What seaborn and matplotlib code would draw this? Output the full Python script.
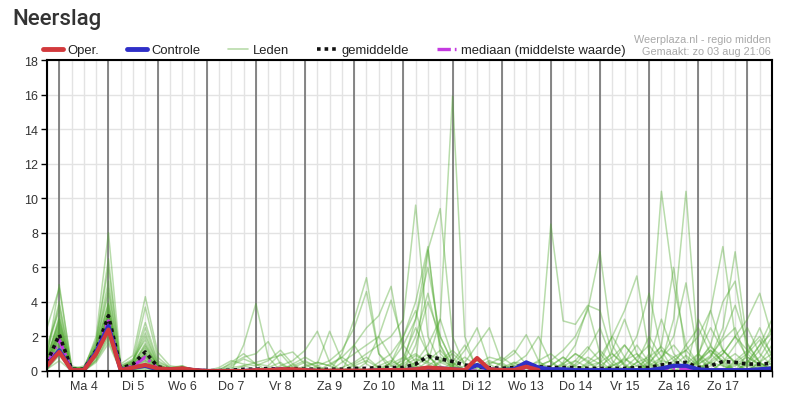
import numpy as np
import pandas as pd
import matplotlib
matplotlib.use("Agg")
import matplotlib.pyplot as plt
from matplotlib.lines import Line2D
import seaborn as sns

# ---------------- data (6-hourly steps, first step = zo 3 aug 18:00) ----------------
dag_labels = ["Ma 4", "Di 5", "Wo 6", "Do 7", "Vr 8", "Za 9", "Zo 10",
              "Ma 11", "Di 12", "Wo 13", "Do 14", "Vr 15", "Za 16", "Zo 17"]
y_ticks = [0, 2, 4, 6, 8, 10, 12, 14, 16, 18]

oper = [.3, 1.1, .05, .05, 1.0, 2.4, .05, .2, .35, .15, .1, .15, .05, 0, 0, 0, 0,
        .05, .05, .1, .1, .05, .02, .02, .02, .02, .02, .05, .05, .05, .1, .2, .15,
        .1, .05, .75, .1, .05, .05, .25, .05]

controle = [.3, 1.2, .05, .05, 1.1, 2.6, .05, .2, .3, .1, .1, .1, .05, 0, 0, 0, 0,
            .05, .05, .1, .05, .05, 0, 0, 0, 0, 0, .05, .05, .05, .1, .15, .15,
            .1, .05, .35, .1, .05, .1, .5, .2, .1, .1, .05, .05, .05, .05, .05, .05,
            .05, .15, .3, .3, .1, .05, .05, .05, .05, .1, .15]

gemiddelde = [.5, 2.1, .1, .1, 1.2, 3.2, .15, .4, 1.1, .25, .1, .15, .05, .02, .02, .05, .1,
              .1, .15, .1, .15, .1, .1, .1, .1, .15, .15, .2, .2, .2, .4, .85, .7,
              .55, .35, .25, .2, .15, .2, .4, .25, .2, .2, .2, .15, .15, .15, .15, .2,
              .2, .35, .45, .5, .2, .3, .55, .5, .4, .4, .45]

mediaan = [.4, 1.8, .05, .05, 1.1, 2.9, .1, .3, .8, .15, .05, .1, 0, 0, 0, 0, 0,
           0, 0, 0, 0, 0, 0, 0, 0, 0, 0, 0, 0, 0, .05, .1, .05,
           0, 0, 0, 0, 0, 0, .05, 0, 0, 0, 0, 0, 0, 0, 0, 0,
           0, .1, .15, .15, 0, 0, .05, .05, 0, 0, 0]

leden = [
    [.3, 2, .1, 0, 1, 3, .1, .3, 1, .2, .1, .1, 0, 0, 0, .2, .3, .1, 0, 0, 0, 0, 0, 0, .2, .5, 1, 1.5, 2, 3, 9.6, 2, .5, .2, 0, 0, 0, 0, 0, .3, .5, .2, 0, 0, .3, .5, 1, .4, 0, 0, .3, .8, 1.2, 2, 3.5, 7.2, 2, .8, .4, .2],
    [.8, 5, .2, .1, 1.5, 4.5, .2, .5, 2, .4, .1, .2, 0, 0, 0, 0, 0, 0, 0, .3, .6, 1.2, 2.3, .5, 0, 0, 0, 0, 0, .2, .5, 1, .6, .3, 1.2, 2.5, .4, 0, 0, 0, 0, 0, .4, 1, .5, 0, 0, .2, .8, 1.5, .5, 0, 0, 0, .3, 1, 2, 1.2, .5, 0],
    [.2, 1.5, 0, 0, .8, 2.5, 0, .2, .6, .1, 0, .1, 0, 0, .1, .4, .8, 1, 1.7, .4, 0, 0, 0, 0, 0, .3, .6, .2, 0, 0, 1.5, 4, 2, .5, 0, 0, 0, .5, 1, 2.1, .6, 0, 0, 0, 0, .3, .8, 1.5, .6, 0, 0, 0, .2, .6, 1.4, .8, 0, 0, .5, 1],
    [1.5, 3.5, .1, .2, 1.8, 6, .3, .6, 3.7, .8, .2, .3, .05, 0, 0, 0, 0, 0, 0, 0, .2, .5, .3, 0, 1, 3, 5.4, 1, 0, 0, 0, .3, .8, .2, 0, 0, .5, .4, 0, 0, 0, 0, 0, .6, 1.4, .6, 0, 0, 0, .4, 1.5, 6, .8, 0, 0, 0, .5, 1, 1.8, .6],
    [.4, 2.5, .1, .1, 1.2, 3.5, .1, .4, 1.5, .3, .1, .1, 0, 0, 0, .5, 1, .4, 0, 0, 0, 0, 0, 0, 0, 0, 0, .2, .4, .8, .3, 0, 0, 0, 0, .2, .6, .3, 0, 0, 0, 8.5, 2.9, 2.7, 3.8, 3.5, 1, .3, 0, 0, 0, 0, 0, .2, .5, .3, 0, 0, 0, .3],
    [.1, 1, 0, 0, .6, 2, .1, .1, .3, 0, 0, 0, 0, 0, 0, 0, 0, 0, .2, .5, 0, 0, 0, 0, 0, 0, 0, 0, .5, 2, 4, 7.2, 1, .3, 0, 0, 0, 0, .5, .4, 0, 0, 0, 0, 0, 0, 1.2, 3, 1, 0, 0, 0, 0, 1, 2.5, 1.2, .5, .3, 0, 0],
    [2.5, 4.8, .3, .1, 2, 8, .4, .9, 4.3, 1.1, .3, .2, .1, 0, 0, 0, 1.5, 3.9, .8, 0, 0, 0, 0, 0, 0, .4, .8, .2, 0, 0, 0, 0, .5, 1, .4, 0, 0, 0, 0, 0, .3, .6, 0, 0, 0, 0, 0, .5, 1.5, .5, 0, 0, 0, 0, .8, 2.5, 6.9, 1.5, .5, 0],
    [.5, 2.2, .1, .3, 1.3, 3.2, .1, .3, .8, .2, .1, .2, 0, 0, 0, 0, 0, 0, 0, 0, .4, .8, .4, 2.3, .6, 0, 0, 0, 0, .3, .7, .4, 0, .5, 1.5, .2, 0, 0, 0, 0, 0, .3, .8, .2, 0, 0, 0, 0, 0, .2, .6, .4, .2, .5, 1.2, .6, 0, .3, .8, 2],
    [.3, 1.8, 0, 0, 1, 2.8, 0, .2, .5, .1, 0, 0, 0, 0, 0, 0, 0, 0, 0, 0, 0, 0, .3, .6, 1.2, 2.5, 4.6, 1, .3, 0, 0, 0, 0, 0, 0, 0, .4, .8, .3, 0, 0, 0, 0, 0, .5, 1.2, .4, 0, 0, 0, .8, 2, 5.1, .8, 0, 0, 0, 0, 0, .5],
    [.6, 3, .2, .1, 1.4, 4, .2, .5, 2.5, .5, .2, .1, 0, 0, 0, 0, .3, .5, .7, .9, 1.1, .4, 0, 0, 0, 0, 0, .3, .6, .2, 0, 0, 0, 0, .3, .6, .2, 0, .4, .9, 2, .5, 0, 0, 0, 0, .3, .7, .3, 0, 0, 0, 0, .4, .9, 1.8, 2.5, .6, 0, 0],
    [.2, 1.2, 0, .1, .9, 2.2, 0, .1, .2, 0, 0, .1, 0, 0, 0, 0, 0, 0, 0, 0, 0, 0, 0, .4, .8, 1.5, 2.5, 3.2, 4.9, 1, 0, 0, 0, 0, 0, 0, 0, 0, 0, 0, .3, .6, 1.2, 2, 3.5, 6.9, 1.5, .3, 0, 0, 0, 0, .4, 1, .4, 0, 0, 0, 0, 0],
    [.9, 2.8, .1, 0, 1.6, 5.2, .3, .7, 1.8, .3, .1, .3, 0, 0, .2, .6, .4, .3, .6, 1.2, .4, 0, 0, 0, 0, 0, 0, 0, 0, .4, .9, .5, .2, 0, 0, .4, .8, .6, 1.2, .4, 0, 0, 0, 0, 0, 0, 0, 0, .5, .8, 1.4, .6, 0, 0, 0, 0, 0, .4, 1.2, 2.5],
    [.4, 2.1, .1, .2, 1.1, 3.3, .1, .4, 1.2, .2, .1, .1, 0, 0, 0, 0, 0, 0, 0, 0, 0, .2, .5, .3, 0, 0, .5, 2, 4.1, 1.5, .5, 0, 0, 0, 0, 0, 0, 0, 0, 0, 0, 0, .5, 1.5, 3.7, 1, .2, 0, 0, 0, 0, .3, .9, .3, 0, 0, .4, .8, .3, 0],
    [.1, .6, 0, 0, .5, 1.6, 0, .1, .1, 0, 0, 0, 0, 0, 0, 0, 0, 0, 0, 0, 0, 0, 0, 0, 0, 0, 0, 0, 0, .5, 3, 7, 1.5, 0, 0, 0, 0, 0, 0, 0, 0, 0, 0, .3, .8, .4, 0, 0, 0, 1, 10.4, 5, 1.5, .4, 0, 0, 0, 0, .3, .6],
    [1.2, 4, .2, .2, 1.7, 6.5, .2, .6, 2.8, .6, .2, .2, 0, 0, 0, .3, .7, .4, .3, 1, .2, 0, 0, 0, 0, 0, 0, 0, 0, 0, 0, .6, 1.2, .4, 0, 0, 0, 0, 0, 0, 0, 0, 0, 0, 0, .5, 2, .8, 0, 0, 0, .4, 1.5, 2.5, 1, .3, 0, 0, 0, 0],
    [.5, 2.4, .1, .1, 1.2, 3, .1, .3, .7, .1, .1, .1, 0, 0, 0, 0, 0, 0, 0, 0, 0, 0, .2, 0, 0, 0, 0, 0, 0, 0, .4, 7, 9.4, 2, .3, 0, 0, 0, 0, 0, 0, 0, 0, 0, 0, 0, 0, 0, 0, 0, 0, 0, 0, .8, 3.5, 1.2, .4, 0, 0, 0],
    [.3, 1.6, 0, 0, .9, 2.6, .1, .2, .4, .1, 0, 0, 0, 0, 0, 0, 0, 0, 0, 0, 0, .3, .5, .3, .8, .3, 0, 0, 0, 0, 0, 0, 0, 0, 0, 0, 0, .2, .5, 0, 0, 0, 0, .4, 1.2, 2.5, .6, 0, 0, .3, .8, 1.5, .6, 0, 0, 0, .3, .6, .2, 0],
    [.7, 3.2, .1, .1, 1.3, 3.8, .2, .4, 1.6, .3, .1, .2, 0, 0, 0, 0, 0, 0, 0, 0, 0, 0, 0, 0, 0, 1.5, .4, 0, 0, 0, .3, .8, .3, 0, 0, 0, 0, 0, 0, .2, .6, 1, .4, 0, 0, 0, 0, 0, .3, .7, .2, 0, 0, .5, 1.5, 4, 5.2, 1, .3, 0],
    [.2, 1.3, 0, .1, .8, 2.4, 0, .2, .4, 0, 0, .1, 0, 0, 0, 0, 0, 0, 0, 0, 0, 0, 0, 0, 0, 0, 0, 0, .3, .6, 1, .5, 3, 15.9, 2, 0, 0, 0, 0, 0, 0, 0, 0, 0, 0, 0, .3, .6, 1, .4, 0, 0, 0, 0, 0, .5, 1, .4, 0, 0],
    [.6, 2.6, .1, .1, 1.1, 3.4, .1, .3, .9, .2, .1, .1, 0, 0, 0, 0, 0, 0, 0, .2, .3, .6, .2, 0, 0, 0, 0, 0, 0, 0, 0, 0, 0, .3, .8, .3, 0, 0, 0, 0, 0, 0, 0, 0, .4, .8, 2, 3.5, 5.5, 1, 0, 0, 0, 0, 0, 0, 0, 0, .5, 1.5],
    [.3, 1.9, .1, 0, 1, 2.9, .1, .3, 1.1, .2, 0, .1, 0, 0, 0, 0, 0, 0, 0, 0, 0, 0, 0, 0, 0, 0, 0, .5, 1, 2, 3.5, 1, 0, 0, 0, 0, 0, 0, .3, .5, 0, 0, 0, 0, 0, 0, 0, 0, 0, 0, .5, 3, 10.4, 1, 0, 0, 0, 0, 0, 0],
    [1, 3.8, .2, .1, 1.5, 4.8, .2, .6, 2.2, .4, .1, .1, 0, 0, 0, 0, 0, 0, 0, 0, 0, 0, 0, 0, .5, 1, 1.5, 2, .8, 0, 0, 0, 0, 0, 0, 0, 0, 0, 0, 0, 0, 0, 0, 0, 0, 0, 0, .8, 2, 4.5, 1.2, 0, 0, 0, .6, 1.2, .5, 0, 0, 0],
    [.4, 2.3, 0, 0, 1.2, 3.1, .1, .3, .6, .1, .1, .1, 0, 0, 0, 0, 0, 0, 0, 0, 0, 0, 0, 0, 0, 0, 0, 0, 0, .5, 2, 4.5, 1.5, .3, 0, 0, 0, 0, 0, 0, 0, 0, .3, .6, .2, 0, 0, 0, 0, .6, 3, 1, .3, 0, 0, 0, 0, .5, 1.5, 2.2],
    [.2, 1.4, 0, 0, .7, 2.1, 0, .1, .3, 0, 0, 0, 0, 0, 0, 0, 0, 0, 0, 0, 0, 0, 0, 0, 0, 0, 0, 0, 0, .8, 2.5, 1, 0, 0, 0, 0, 0, 0, 0, 0, 0, 0, 0, 0, 0, 0, 0, 0, .5, 2, .8, 0, 0, 0, 0, .5, 1.5, 2.5, 1, .3],
    [.5, 2.7, .1, .2, 1.4, 3.6, .2, .4, 1.3, .3, .1, .1, 0, 0, 0, 0, 0, 0, 0, 0, 0, 0, 0, 0, 0, 0, 0, 0, .5, 1.5, 3, 6, 2, .5, 0, 0, 0, 0, 0, 0, 0, 0, 0, 0, 0, 0, .4, 1.5, .6, 0, 0, 0, 0, 3, 1.5, .4, 0, 0, 0, .8],
    [.3, 1.7, .1, .1, .9, 2.7, .1, .2, .8, .1, 0, .1, 0, 0, 0, 0, 0, 0, 0, 0, 0, 0, 0, 0, 0, 0, 0, 0, 0, 0, .5, 1.5, 3, .8, 0, 0, 0, 0, 0, 0, 0, 0, 0, 0, 0, 0, 0, 0, 0, 0, 0, .6, 1.2, .4, .8, 2, 3.8, 1.6, .5, 0],
    [.7, 3, .1, .1, 1.3, 3.9, .1, .5, 1.4, .3, .1, .2, 0, 0, 0, 0, 0, 0, 0, 0, 0, 0, 0, 0, 0, 0, 0, 0, 0, 0, 0, 0, .6, 1.2, .5, 1.5, 2.5, .5, 0, 0, 0, 0, 0, 0, 0, 0, 0, 0, 0, 0, 0, 0, 0, 0, 0, 0, .6, 1.2, 2, 1],
    [.1, .9, 0, 0, .6, 1.8, 0, .1, .2, 0, 0, 0, 0, 0, 0, 0, 0, 0, 0, 0, 0, 0, 0, 0, 0, 0, 0, 0, 0, 0, 0, 0, 0, 0, 0, 0, 0, 0, 0, 0, 0, 0, .4, 1, .6, 0, 0, 0, 0, 0, 0, 0, 0, 0, .5, 1, 2, 3, 4.5, 2],
    [.4, 2, .1, .1, 1.1, 3.2, .1, .3, 1, .2, .1, .1, 0, 0, 0, 0, 0, 0, 0, 0, 0, 0, 0, 0, 0, 0, 0, 0, 0, 0, .3, 0, 0, 0, 0, 0, 0, 0, 0, 0, 0, 0, 0, 0, 0, 0, 0, 0, 0, .5, 1.2, .8, 0, 0, 0, 0, 0, .5, 1.5, 3],
    [.6, 2.2, .1, 0, 1.2, 3.3, .1, .4, .9, .2, .1, .1, 0, 0, 0, 0, 0, 0, 0, 0, 0, 0, 0, 0, 0, 0, 0, 0, 0, 0, 0, 0, 0, 0, 0, 0, 0, 0, 0, 0, 0, .3, .8, .3, 0, 0, 0, 0, 0, 0, 0, 0, 0, .6, 1.2, .5, 0, 1, 2.5, .8],
]

n_stap = len(controle)
for k, lid in enumerate(leden):
    assert len(lid) == n_stap, (k, len(lid))

# ---------------- styling ----------------
sns.set_theme(style="white")
plt.rcParams["font.family"] = ["Liberation Sans", "DejaVu Sans"]

C_OPER = "#d2393c"
C_CTRL = "#2f2fc8"
C_LEDEN = "#4fa82e"
C_MEAN = "#111111"
C_MED = "#c43ae0"

fig = plt.figure(figsize=(7.85, 4.10), dpi=100)
ax = fig.add_axes([47 / 785, 1 - 372 / 410, 725 / 785, 311 / 410])

stap = np.arange(n_stap)
rows = []
for k, lid in enumerate(leden):
    for s, v in zip(stap, lid):
        rows.append((k, s, v))
df_leden = pd.DataFrame(rows, columns=["lid", "stap", "neerslag"])

sns.lineplot(data=df_leden, x="stap", y="neerslag", units="lid", estimator=None,
             color=C_LEDEN, lw=1.1, alpha=0.4, legend=False, ax=ax, zorder=3)
sns.lineplot(x=stap, y=gemiddelde, color=C_MEAN, lw=2.6, ls=(0, (1, 1.1)), ax=ax, zorder=5)
sns.lineplot(x=stap, y=mediaan, color=C_MED, lw=2.4, ls=(0, (4, 1.2, 0.8, 1.2)), ax=ax, zorder=4)
sns.lineplot(x=stap, y=controle, color=C_CTRL, lw=3.0, ax=ax, zorder=6)
sns.lineplot(x=stap[:len(oper)], y=oper, color=C_OPER, lw=3.0, ax=ax, zorder=7)

ax.set_xlim(0, n_stap - 1)
ax.set_ylim(0, 18)
ax.set_xlabel("")
ax.set_ylabel("")

# x ticks every 6 hours, day label at noon
xt_labels = [""] * n_stap
for d, lab in enumerate(dag_labels):
    xt_labels[3 + 4 * d] = lab
ax.set_xticks(stap)
ax.set_xticklabels(xt_labels)
ax.set_yticks(y_ticks)
ax.set_yticklabels([str(v) for v in y_ticks])
ax.tick_params(axis="x", length=4, width=1, color="black", pad=2.5,
               labelsize=9, labelcolor="#333333", direction="out", bottom=True)
ax.tick_params(axis="y", length=4.5, width=1, color="black", pad=2,
               labelsize=9, labelcolor="#333333", direction="out", left=True)

ax.grid(True, axis="both", color="#e3e3e3", lw=1, zorder=0)
ax.set_axisbelow(True)
for d in range(len(dag_labels) + 1):
    ax.axvline(1 + 4 * d, color="#737373", lw=1.2, zorder=1)

for sp in ax.spines.values():
    sp.set_visible(True)
    sp.set_color("black")
    sp.set_linewidth(1.5)
    sp.set_zorder(10)

# legend
handles = [
    Line2D([], [], color=C_OPER, lw=3.5),
    Line2D([], [], color=C_CTRL, lw=3.5),
    Line2D([], [], color="#b9dcaa", lw=1.2),
    Line2D([], [], color=C_MEAN, lw=2.6, ls=(0, (1, 1.1))),
    Line2D([], [], color=C_MED, lw=2.4, ls=(0, (4, 1.2, 0.8, 1.2))),
]
labels = ["Oper.", "Controle", "Leden", "gemiddelde", "mediaan (middelste waarde)"]
fig.legend(handles, labels, loc="center left", bbox_to_anchor=(43 / 785, 1 - 51 / 410),
           bbox_transform=fig.transFigure, ncol=5, frameon=False, fontsize=9.4,
           handlelength=1.5, handletextpad=0.4, columnspacing=2.1, borderpad=0,
           borderaxespad=0, labelcolor="#222222")

fig.text(12 / 785, 1 - 20 / 410, "Neerslag", fontsize=16, fontweight="medium",
         family=["Roboto", "DejaVu Sans"], color="#333333", ha="left", va="center")
fig.text(771 / 785, 1 - 40 / 410, "Weerplaza.nl - regio midden", fontsize=7.8,
         color="#a8a8a8", ha="right", va="center")
fig.text(771 / 785, 1 - 52 / 410, "Gemaakt: zo 03 aug 21:06", fontsize=7.8,
         color="#a8a8a8", ha="right", va="center")

fig.savefig("out.png", dpi=100, facecolor="white")
